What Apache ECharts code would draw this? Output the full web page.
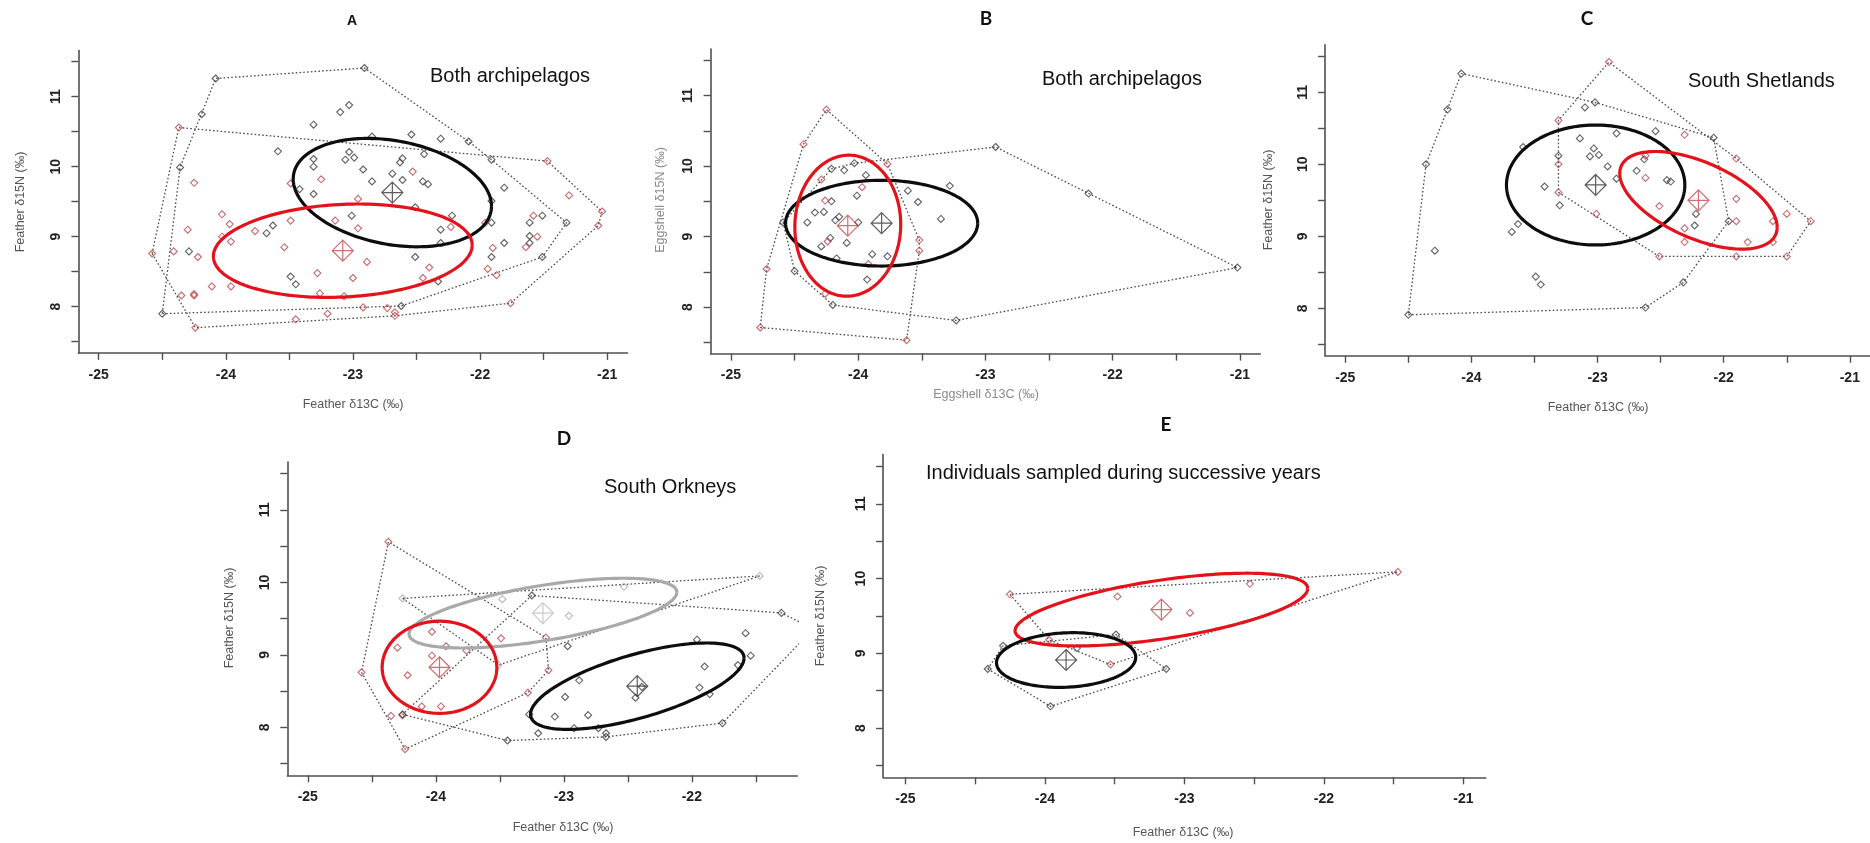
<!DOCTYPE html>
<html>
<head>
<meta charset="utf-8">
<script src="https://cdn.jsdelivr.net/npm/echarts@6/dist/echarts.min.js"></script>
<style>
  html, body { margin: 0; padding: 0; background: #ffffff; }
  #chart { width: 1870px; height: 843px; }
</style>
</head>
<body>
<div id="chart"></div>
<script>
// ---- axis ticks and labels (per mille) ----
const xTickValues = [-25, -24.5, -24, -23.5, -23, -22.5, -22, -21.5, -21];
const xLabelValues = [-25, -24, -23, -22, -21];
const yTickValues = [7.5, 8, 8.5, 9, 9.5, 10, 10.5, 11, 11.5];
const yLabelValues = [8, 9, 10, 11];

// ---- A: feathers, both archipelagos ----
const aBlack = [[-24.08,11.26],[-22.91,11.41],[-24.19,10.75],[-24.36,9.99],[-24.50,7.90],[-24.29,8.79],[-22.62,8.01],[-22.33,8.36],[-21.51,8.71],[-21.32,9.20],[-21.51,9.30],[-21.61,9.20],[-21.61,9.01],[-21.61,8.91],[-21.81,8.91],[-21.91,8.71],[-21.91,9.20],[-21.91,9.51],[-21.81,9.70],[-21.91,10.10],[-22.09,10.36],[-22.31,10.40],[-22.54,10.46],[-22.85,10.43],[-23.03,10.88],[-23.10,10.78],[-23.31,10.60],[-23.59,10.22],[-23.31,10.11],[-23.31,10.00],[-23.31,9.61],[-23.42,9.68],[-23.03,10.21],[-22.99,10.13],[-23.06,10.10],[-22.92,9.96],[-22.85,9.79],[-22.69,9.90],[-22.61,10.12],[-22.63,10.06],[-22.61,9.81],[-22.44,10.18],[-22.45,9.79],[-22.41,9.75],[-22.51,9.42],[-22.22,9.30],[-22.31,9.10],[-23.01,9.30],[-23.63,9.16],[-23.68,9.05],[-23.49,8.43],[-23.45,8.32],[-22.51,8.71],[-22.31,8.91]];
const aRed = [[-24.58,8.76],[-24.37,10.56],[-21.47,10.08],[-21.30,9.59],[-21.04,9.36],[-21.07,9.16],[-21.76,8.05],[-22.67,7.87],[-23.45,7.82],[-24.24,7.70],[-24.41,8.79],[-24.35,8.16],[-24.25,8.18],[-24.25,8.16],[-24.25,9.77],[-24.30,9.10],[-24.22,8.71],[-24.11,8.29],[-23.96,8.29],[-24.03,9.32],[-23.97,9.18],[-23.96,8.93],[-24.03,9.00],[-23.77,9.08],[-23.49,9.76],[-23.49,9.23],[-23.54,8.85],[-23.25,9.82],[-23.28,8.48],[-23.26,8.19],[-23.20,7.90],[-23.07,8.15],[-23.14,9.23],[-22.96,9.54],[-22.96,9.12],[-23.00,8.41],[-22.89,8.64],[-22.92,7.99],[-22.73,7.98],[-22.67,7.92],[-22.53,9.93],[-22.40,8.56],[-22.45,8.41],[-21.94,8.54],[-21.90,8.84],[-21.87,8.45],[-21.64,8.85],[-21.55,9.00],[-21.58,9.30],[-21.96,9.20],[-22.23,9.14]];
// ellipse: [centre x, centre y, half-width x, half-height y, correlation]
const aBlackEllipse = [-22.69, 9.63, 0.78, 0.774, -0.25];
const aRedEllipse = [-23.08, 8.80, 1.018, 0.667, 0.12];

// ---- B: eggshells, both archipelagos ----
const bBlack = [[-24.59,9.20],[-24.50,8.51],[-24.20,8.03],[-23.23,7.81],[-21.02,8.56],[-22.19,9.61],[-22.92,10.27],[-24.21,9.96],[-24.11,9.94],[-24.03,10.04],[-23.94,9.87],[-24.01,9.58],[-24.21,9.50],[-24.34,9.34],[-24.27,9.35],[-24.40,9.20],[-24.18,9.23],[-24.15,9.28],[-24.00,9.20],[-24.22,8.98],[-24.29,8.86],[-24.09,8.91],[-24.17,8.69],[-23.89,8.75],[-23.77,8.72],[-23.93,8.39],[-23.61,9.65],[-23.53,9.49],[-23.28,9.72],[-23.35,9.25]];
const bRed = [[-24.25,10.80],[-24.43,10.31],[-24.72,8.54],[-24.77,7.71],[-23.62,7.53],[-23.52,8.80],[-23.52,8.95],[-23.77,10.03],[-23.97,9.70],[-24.29,9.81],[-24.26,9.51],[-24.24,8.93],[-23.92,8.61],[-24.26,8.19]];
const bBlackEllipse = [-23.816, 9.19, 0.755, 0.608, 0.0];
const bRedEllipse = [-24.082, 9.154, 0.416, 1.0, 0.02];

// ---- C: South Shetlands ----
const cBlack = [[-24.50,7.91],[-24.36,10.00],[-24.19,10.76],[-24.08,11.26],[-23.02,10.86],[-23.10,10.79],[-22.08,10.37],[-21.96,9.21],[-22.32,8.36],[-22.62,8.01],[-24.29,8.80],[-23.49,8.44],[-23.45,8.33],[-23.68,9.06],[-23.63,9.17],[-23.42,9.69],[-23.59,10.24],[-23.31,10.12],[-23.30,9.43],[-23.14,10.36],[-23.06,10.11],[-23.03,10.22],[-22.99,10.13],[-22.92,9.97],[-22.85,10.43],[-22.85,9.80],[-22.69,9.91],[-22.63,10.07],[-22.54,10.46],[-22.45,9.78],[-22.42,9.76],[-22.22,9.31],[-22.23,9.15]];
const cRed = [[-22.91,11.42],[-23.31,10.61],[-23.31,10.00],[-23.31,9.61],[-23.01,9.31],[-22.51,8.72],[-21.50,8.72],[-21.31,9.21],[-21.90,10.08],[-22.31,10.41],[-22.62,10.12],[-22.62,9.81],[-22.51,9.42],[-22.31,9.11],[-22.31,8.92],[-21.90,9.52],[-21.90,9.21],[-21.90,8.72],[-21.81,8.92],[-21.61,9.21],[-21.61,8.92],[-21.50,9.31]];
const cBlackEllipse = [-23.015, 9.713, 0.707, 0.833, 0.0];
const cRedEllipse = [-22.20, 9.50, 0.624, 0.678, -0.55];

// ---- D: South Orkneys ----
const dRed = [[-24.37,10.56],[-24.58,8.76],[-24.35,8.16],[-24.26,8.17],[-24.24,7.70],[-23.12,8.79],[-23.14,9.24],[-23.28,8.48],[-23.49,9.23],[-23.76,9.06],[-23.92,9.12],[-24.03,9.32],[-24.30,9.10],[-24.22,8.72],[-24.03,8.99],[-24.11,8.29],[-23.96,8.29]];
const dGrey = [[-24.26,9.78],[-23.48,9.77],[-22.53,9.94],[-21.47,10.09],[-22.96,9.54],[-23.51,8.86]];
const dBlack = [[-23.25,9.82],[-21.30,9.58],[-21.05,9.36],[-21.76,8.06],[-22.67,7.87],[-23.44,7.82],[-24.26,8.18],[-22.97,9.12],[-21.96,9.21],[-21.90,8.84],[-21.54,8.99],[-21.58,9.30],[-21.64,8.86],[-21.94,8.55],[-21.86,8.46],[-22.88,8.65],[-22.99,8.42],[-22.44,8.41],[-22.39,8.56],[-23.07,8.15],[-22.81,8.17],[-23.27,8.18],[-22.92,7.99],[-22.73,7.99],[-23.20,7.92],[-22.67,7.92]];
const dGreyEllipse = [-23.163, 9.577, 1.046, 0.481, 0.6];
const dRedEllipse = [-23.971, 8.83, 0.448, 0.636, 0.0];
const dBlackEllipse = [-22.426, 8.569, 0.834, 0.596, 0.65];

// ---- E: individuals sampled during successive years ----
const eRed = [[-24.25,9.79],[-23.48,9.76],[-22.53,9.93],[-21.47,10.09],[-22.96,9.54],[-23.53,8.85],[-23.97,9.18]];
const eBlack = [[-24.41,8.79],[-24.30,9.10],[-23.96,8.29],[-23.13,8.79],[-23.49,9.25],[-23.77,9.07]];
const eRedEllipse = [-23.165, 9.585, 1.049, 0.487, 0.58];
const eBlackEllipse = [-23.848, 8.91, 0.499, 0.366, 0.1];

// ---- styling ----
const COL = {
  blackPt: '#3a3a3a', redPt: '#b8474b', greyPt: '#a8a8a8',
  blackEl: '#0d0d0d', redEl: '#e3121b', greyEl: '#a9a9a9',
  blackMean: '#333333', redMean: '#c44a4f', greyMean: '#bdbdbd',
  hull: '#4a4a4a', axis: '#505050'
};
const SANS = '"Liberation Sans", Arial, sans-serif';

// plot frames (pixels); x range spans -25.16 .. -20.84 and y 7.34 .. 11.66
const frames = [
  { left: 78.4,  top: 50.5,  width: 549.1, height: 302.4, xMax: -20.84 },
  { left: 710.6, top: 49.0,  width: 549.7, height: 304.6, xMax: -20.84 },
  { left: 1325.1, top: 44.8, width: 552.5, height: 311.0, xMax: -20.84 },
  { left: 287.3, top: 462.1, width: 510.0, height: 313.2, xMax: -21.176 },
  { left: 883.1, top: 454.6, width: 602.6, height: 322.7, xMax: -20.84 }
];

// convex hull (monotone chain) of a group of points
function hull(pts) {
  const p = pts.slice().sort((a, b) => a[0] - b[0] || a[1] - b[1]);
  const cross = (o, a, b) => (a[0]-o[0])*(b[1]-o[1]) - (a[1]-o[1])*(b[0]-o[0]);
  const lower = [], upper = [];
  for (const q of p) { while (lower.length >= 2 && cross(lower[lower.length-2], lower[lower.length-1], q) <= 0) lower.pop(); lower.push(q); }
  for (let i = p.length - 1; i >= 0; i--) { const q = p[i]; while (upper.length >= 2 && cross(upper[upper.length-2], upper[upper.length-1], q) <= 0) upper.pop(); upper.push(q); }
  upper.pop(); lower.pop();
  const h = lower.concat(upper);
  h.push(h[0]);
  return h;
}

const grids = [], xAxes = [], yAxes = [], series = [];

frames.forEach((f, i) => {
  grids.push({ left: f.left, top: f.top, width: f.width, height: f.height, containLabel: false });
  xAxes.push({
    type: 'value', gridIndex: i, min: -25.16, max: f.xMax,
    axisLine: { show: true, onZero: false, lineStyle: { color: COL.axis, width: 1.6 } },
    axisTick: { show: true, length: 7, customValues: xTickValues.filter(v => v <= f.xMax), lineStyle: { color: COL.axis, width: 1.4 } },
    axisLabel: { show: true, customValues: xLabelValues.filter(v => v <= f.xMax), margin: 15, fontSize: 14, fontWeight: 'bold', color: '#222', fontFamily: SANS },
    splitLine: { show: false }
  });
  yAxes.push({
    type: 'value', gridIndex: i, min: 7.34, max: 11.66,
    axisLine: { show: true, onZero: false, lineStyle: { color: COL.axis, width: 1.6 } },
    axisTick: { show: true, length: 7, customValues: yTickValues, lineStyle: { color: COL.axis, width: 1.4 } },
    axisLabel: { show: true, customValues: yLabelValues, rotate: 90, margin: 15, fontSize: 14, fontWeight: 'bold', color: '#222', fontFamily: SANS },
    splitLine: { show: false }
  });
});

function addHull(i, pts) {
  series.push({
    type: 'line', xAxisIndex: i, yAxisIndex: i, data: hull(pts), symbol: 'none', silent: true,
    lineStyle: { color: COL.hull, width: 1.3, type: [1.6, 2.2] }, z: 1, clip: true
  });
}
function addPoints(i, pts, color) {
  series.push({
    type: 'scatter', xAxisIndex: i, yAxisIndex: i, data: pts, symbol: 'diamond', symbolSize: 7, silent: true,
    itemStyle: { color: 'rgba(0,0,0,0)', borderColor: color, borderWidth: 1.1 }, z: 2, clip: true
  });
}
function addEllipse(i, el, color) {
  series.push({
    type: 'custom', xAxisIndex: i, yAxisIndex: i, data: [el], silent: true, z: 3, clip: true,
    encode: { x: 0, y: 1 },
    renderItem: function (params, api) {
      const cx = api.value(0), cy = api.value(1), hx = api.value(2), hy = api.value(3), r = api.value(4);
      const s = Math.sqrt(1 - r * r);
      const pts = [];
      for (let k = 0; k <= 180; k++) {
        const t = 2 * Math.PI * k / 180;
        pts.push(api.coord([cx + hx * Math.cos(t), cy + hy * (r * Math.cos(t) + s * Math.sin(t))]));
      }
      return { type: 'polyline', shape: { points: pts }, style: { fill: 'none', stroke: color, lineWidth: 3.2 } };
    }
  });
}
const meanSymbol = 'path://M10,0 L20,10 L10,20 L0,10 Z M10,0 L10,20 M0,10 L20,10';
function addMean(i, el, color) {
  series.push({
    type: 'scatter', xAxisIndex: i, yAxisIndex: i, data: [[el[0], el[1]]], symbol: meanSymbol, symbolSize: [21, 21], silent: true,
    itemStyle: { color: 'rgba(0,0,0,0)', borderColor: color, borderWidth: 1.2 }, z: 4
  });
}

// A
addHull(0, aBlack); addHull(0, aRed);
addPoints(0, aBlack, COL.blackPt); addPoints(0, aRed, COL.redPt);
addEllipse(0, aBlackEllipse, COL.blackEl); addEllipse(0, aRedEllipse, COL.redEl);
addMean(0, aBlackEllipse, COL.blackMean); addMean(0, aRedEllipse, COL.redMean);
// B
addHull(1, bBlack); addHull(1, bRed);
addPoints(1, bBlack, COL.blackPt); addPoints(1, bRed, COL.redPt);
addEllipse(1, bBlackEllipse, COL.blackEl); addEllipse(1, bRedEllipse, COL.redEl);
addMean(1, bBlackEllipse, COL.blackMean); addMean(1, bRedEllipse, COL.redMean);
// C
addHull(2, cBlack); addHull(2, cRed);
addPoints(2, cBlack, COL.blackPt); addPoints(2, cRed, COL.redPt);
addEllipse(2, cBlackEllipse, COL.blackEl); addEllipse(2, cRedEllipse, COL.redEl);
addMean(2, cBlackEllipse, COL.blackMean); addMean(2, cRedEllipse, COL.redMean);
// D
addHull(3, dRed); addHull(3, dGrey); addHull(3, dBlack);
addPoints(3, dRed, COL.redPt); addPoints(3, dGrey, COL.greyPt); addPoints(3, dBlack, COL.blackPt);
addEllipse(3, dGreyEllipse, COL.greyEl); addEllipse(3, dRedEllipse, COL.redEl); addEllipse(3, dBlackEllipse, COL.blackEl);
addMean(3, dGreyEllipse, COL.greyMean); addMean(3, dRedEllipse, COL.redMean); addMean(3, dBlackEllipse, COL.blackMean);
// E
addHull(4, eRed); addHull(4, eBlack);
addPoints(4, eRed, COL.redPt); addPoints(4, eBlack, COL.blackPt);
addEllipse(4, eRedEllipse, COL.redEl); addEllipse(4, eBlackEllipse, COL.blackEl);
addMean(4, eRedEllipse, COL.redMean); addMean(4, eBlackEllipse, COL.blackMean);

// titles, notes and axis titles
function txt(x, y, text, font, fill, align, rot) {
  return { type: 'text', x: x, y: y, rotation: rot || 0, silent: true, z: 10,
    style: { text: text, font: font, fill: fill, textAlign: align || 'center', textVerticalAlign: 'middle' } };
}
const TITLE = 'bold 19px Lato, "Open Sans", sans-serif';
const NOTE = '20px ' + SANS;
const AX = '12.5px ' + SANS;
const graphics = [
  txt(352, 21, 'A', 'bold 14px ' + SANS, '#111'),
  txt(986, 18.5, 'B', TITLE, '#111'),
  txt(1587, 19, 'C', TITLE, '#111'),
  txt(564, 439, 'D', TITLE, '#111'),
  txt(1166, 425, 'E', TITLE, '#111'),
  txt(430, 76, 'Both archipelagos', NOTE, '#111', 'left'),
  txt(1042, 79, 'Both archipelagos', NOTE, '#111', 'left'),
  txt(1688, 81, 'South Shetlands', NOTE, '#111', 'left'),
  txt(604, 487, 'South Orkneys', NOTE, '#111', 'left'),
  txt(926, 473, 'Individuals sampled during successive years', NOTE, '#111', 'left'),
  txt(353, 405, 'Feather δ13C (‰)', AX, '#555'),
  txt(986, 395, 'Eggshell δ13C (‰)', AX, '#8a8a8a'),
  txt(1598, 408, 'Feather δ13C (‰)', AX, '#555'),
  txt(563, 828, 'Feather δ13C (‰)', AX, '#555'),
  txt(1183, 833, 'Feather δ13C (‰)', AX, '#555'),
  txt(21, 202, 'Feather δ15N (‰)', AX, '#555', 'center', Math.PI / 2),
  txt(661, 200, 'Eggshell δ15N (‰)', AX, '#8a8a8a', 'center', Math.PI / 2),
  txt(1269, 200, 'Feather δ15N (‰)', AX, '#555', 'center', Math.PI / 2),
  txt(230, 618, 'Feather δ15N (‰)', AX, '#555', 'center', Math.PI / 2),
  txt(821, 616, 'Feather δ15N (‰)', AX, '#555', 'center', Math.PI / 2)
];

const chart = echarts.init(document.getElementById('chart'), null, { renderer: 'canvas' });
chart.setOption({
  animation: false,
  backgroundColor: '#ffffff',
  grid: grids, xAxis: xAxes, yAxis: yAxes,
  series: series,
  graphic: graphics
});
</script>
</body>
</html>
